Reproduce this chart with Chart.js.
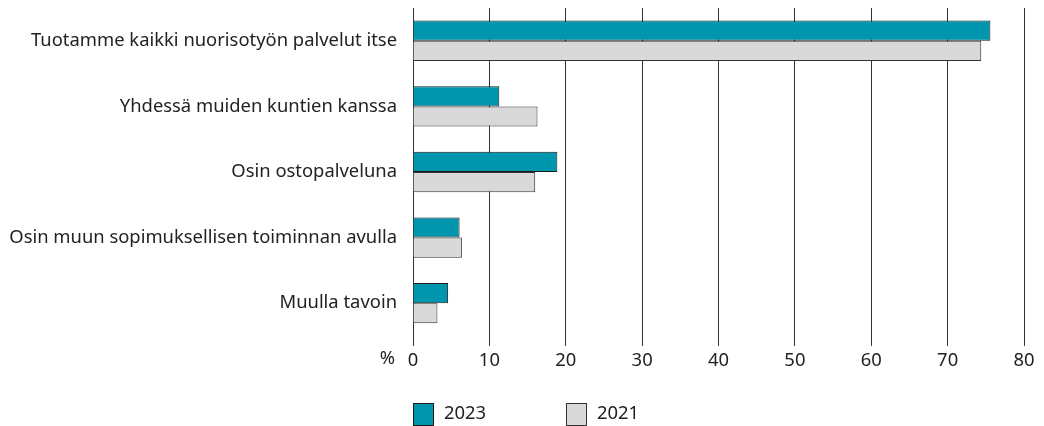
<!DOCTYPE html>
<html>
<head>
<meta charset="utf-8">
<script src="https://cdn.jsdelivr.net/npm/chart.js@4/dist/chart.umd.min.js"></script>
<style>
  html, body { margin: 0; padding: 0; background: #fff; }
  #wrap { width: 1044px; height: 426px; }
</style>
</head>
<body>
<div id="wrap"><canvas id="services-chart" width="1044" height="426"></canvas></div>
<script>
const categories = [
  "Tuotamme kaikki nuorisotyön palvelut itse",
  "Yhdessä muiden kuntien kanssa",
  "Osin ostopalveluna",
  "Osin muun sopimuksellisen toiminnan avulla",
  "Muulla tavoin"
];
const values2023 = [75.6, 11.3, 18.9, 6.1, 4.6];
const values2021 = [74.4, 16.3, 16.0, 6.4, 3.2];
const xTicks = [0, 10, 20, 30, 40, 50, 60, 70, 80];

const FONT = "'Noto Sans', sans-serif";
const FSIZE = 18.4;
const INK = "#222";

// draws the "%" unit and the legend under the axis
const extras = {
  id: 'extras',
  afterDraw(chart) {
    const ctx = chart.ctx;
    const x = chart.scales.x;
    ctx.save();
    ctx.font = FSIZE + "px " + FONT;
    ctx.fillStyle = INK;
    ctx.textBaseline = 'middle';
    ctx.textAlign = 'right';
    ctx.fillText('%', x.left - 18, 359);

    ctx.textAlign = 'left';
    chart.data.datasets.forEach((ds, i) => {
      const bx = x.left + i * 153;
      ctx.fillStyle = ds.backgroundColor;
      ctx.fillRect(bx, 403, 20, 22);
      ctx.strokeStyle = ds.borderColor;
      ctx.lineWidth = 1;
      ctx.strokeRect(bx + 0.5, 403.5, 20, 22);
      ctx.fillStyle = INK;
      ctx.fillText(ds.label, bx + 31, 414);
    });
    ctx.restore();
  }
};

new Chart(document.getElementById("services-chart"), {
  type: 'bar',
  data: {
    labels: categories,
    datasets: [
      {
        label: "2023",
        backgroundColor: "#0096ae",
        borderColor: "#1a1a1a",
        borderWidth: 1,
        data: values2023
      },
      {
        label: "2021",
        backgroundColor: "#d9d9d9",
        borderColor: "#333",
        borderWidth: 1,
        data: values2021
      }
    ]
  },
  options: {
    indexAxis: 'y',
    responsive: false,
    animation: false,
    layout: { padding: { left: 0, right: 20, top: 8, bottom: 50 } },
    plugins: {
      legend: { display: false },
      tooltip: { enabled: false }
    },
    datasets: {
      bar: { barPercentage: 1, categoryPercentage: 0.615 }
    },
    scales: {
      x: {
        min: 0,
        max: 80,
        afterBuildTicks: (scale) => { scale.ticks = xTicks.map(v => ({ value: v })); },
        border: { display: false },
        grid: { color: "#333", lineWidth: 1, drawTicks: true, tickLength: 10 },
        ticks: { color: INK, font: { family: FONT, size: FSIZE }, padding: 4, maxRotation: 0 }
      },
      y: {
        afterFit: (scale) => {
          scale.width = 413;
          scale.paddingTop = 0;
          scale.paddingBottom = 0;
        },
        border: { display: false },
        grid: { display: false, drawTicks: false },
        ticks: { color: INK, font: { family: FONT, size: FSIZE }, padding: 16 }
      }
    }
  },
  plugins: [extras]
});
</script>
</body>
</html>
